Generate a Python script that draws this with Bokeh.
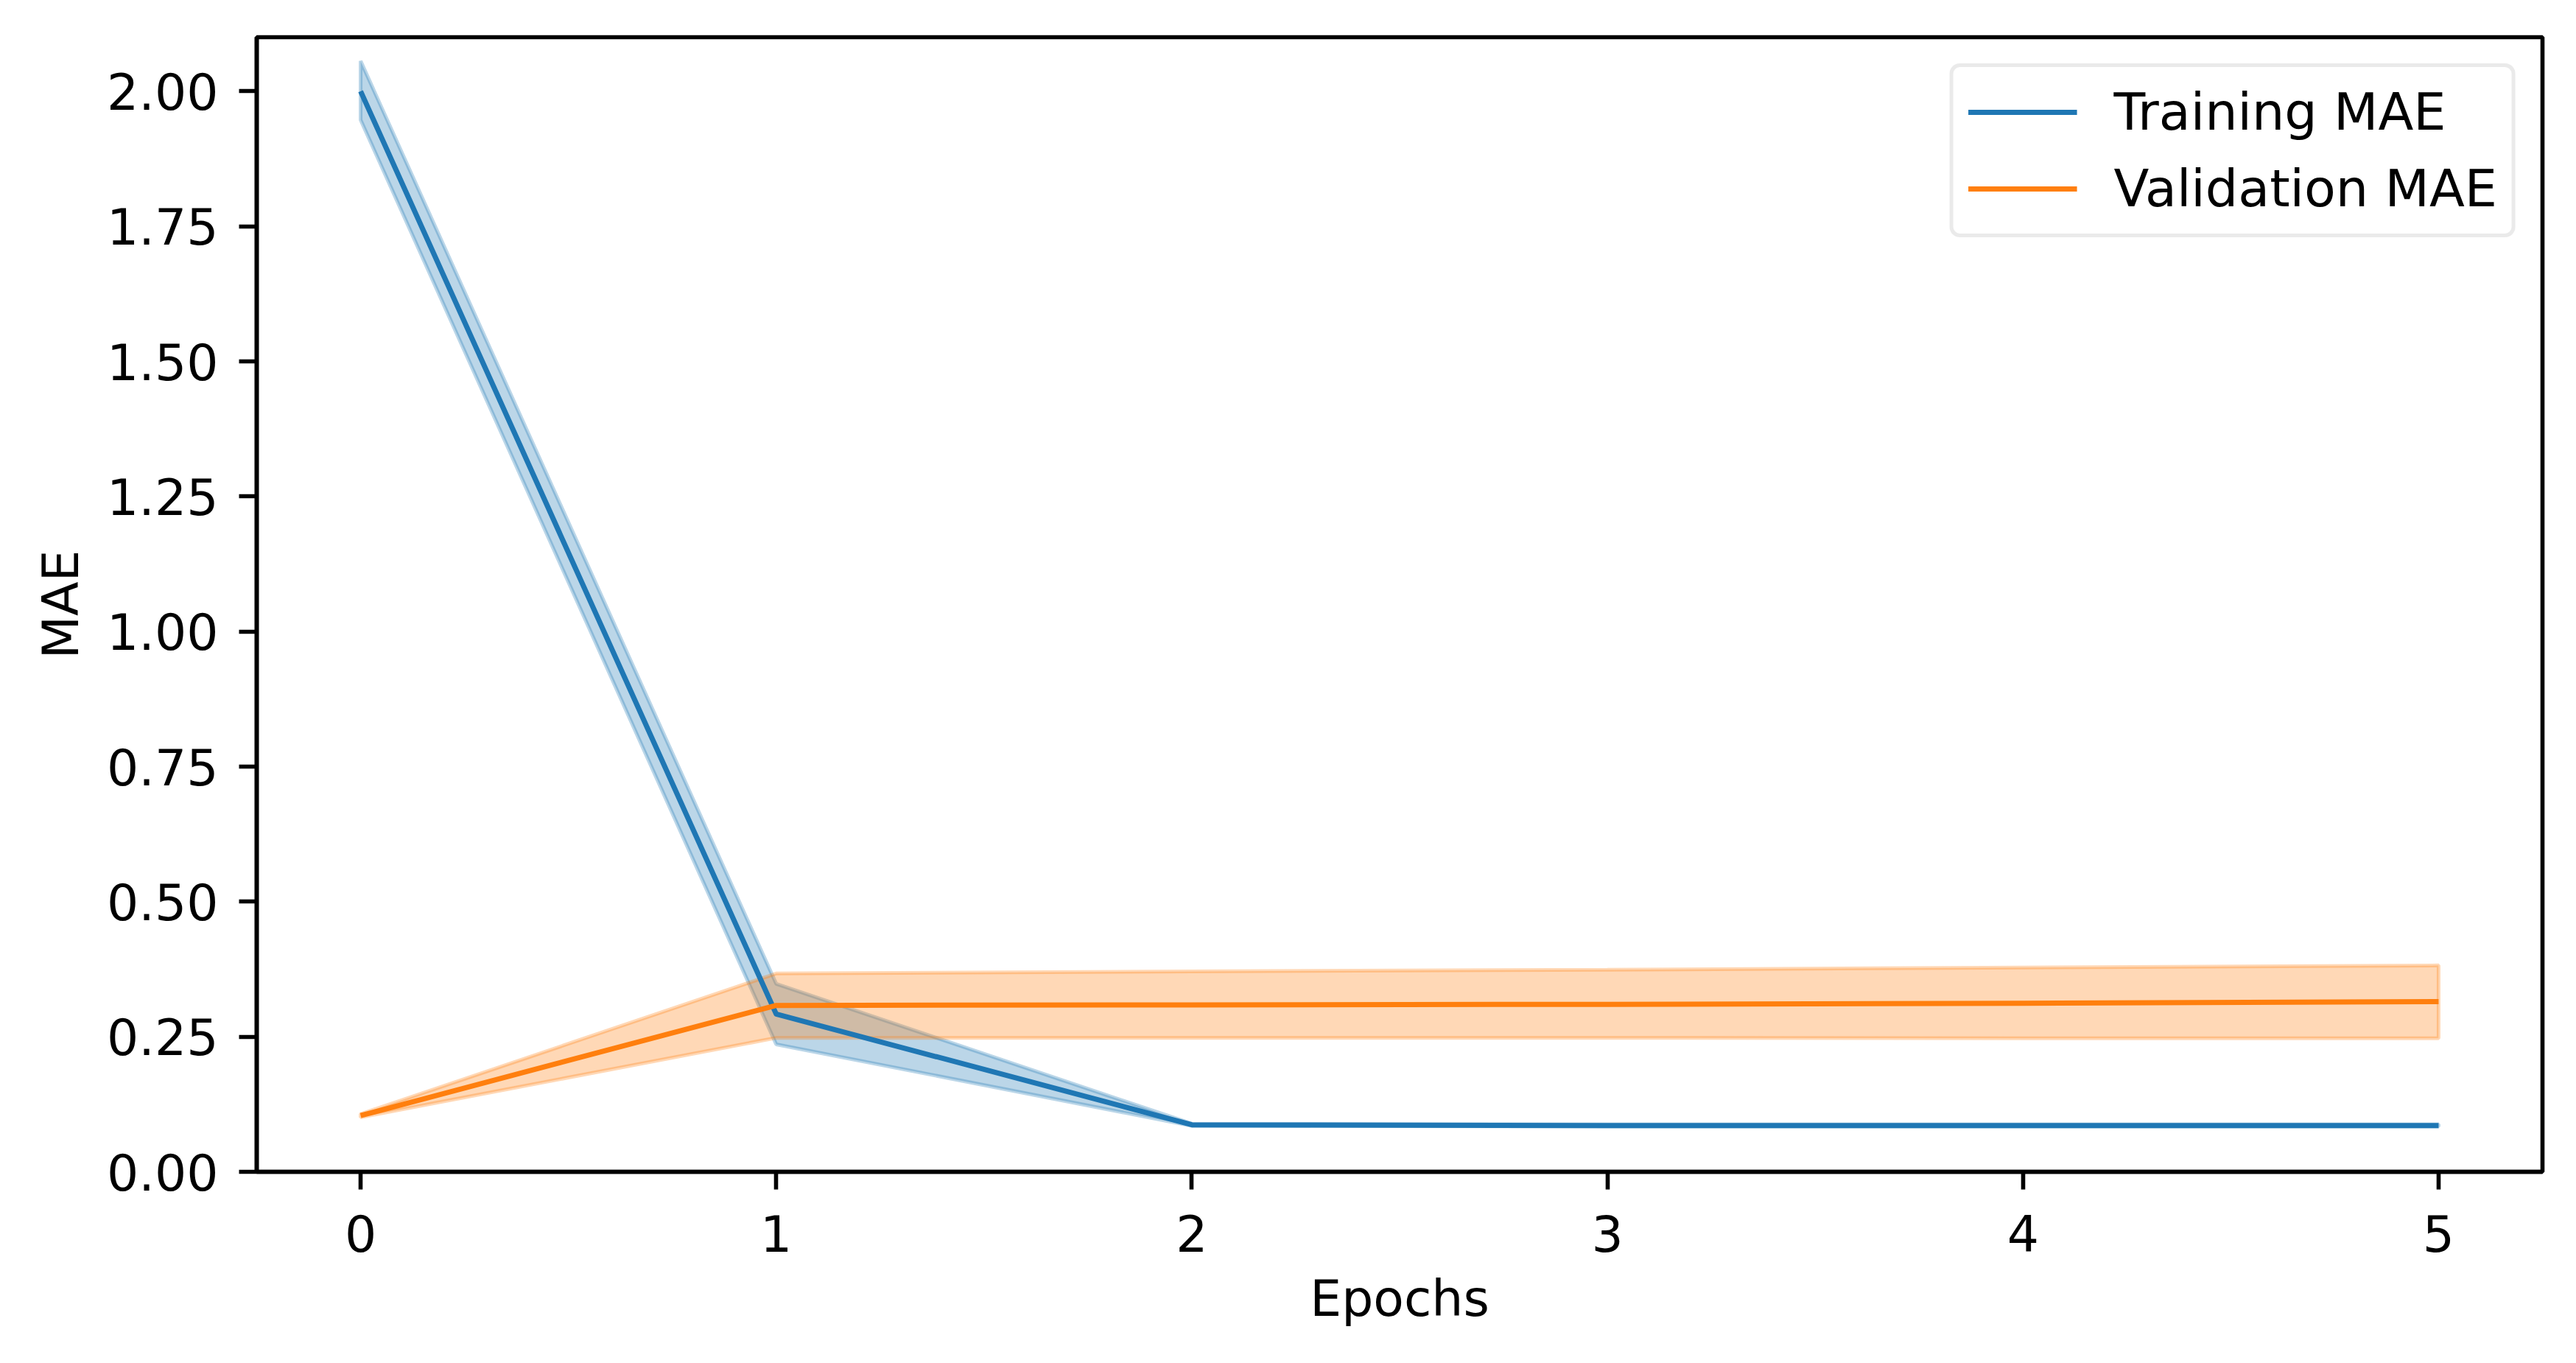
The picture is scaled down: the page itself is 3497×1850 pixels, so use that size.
from bokeh.plotting import figure
from bokeh.models import Range1d, FixedTicker, PrintfTickFormatter, Legend, LegendItem
from bokeh.embed import file_html
from bokeh.resources import INLINE

# ---- data ----
epochs = [0, 1, 2, 3, 4, 5]
train_mae = [2.00, 0.292, 0.087, 0.0855, 0.0855, 0.0855]
train_lower = [1.947, 0.236, 0.085, 0.084, 0.084, 0.084]
train_upper = [2.056, 0.348, 0.089, 0.088, 0.088, 0.088]
val_mae = [0.104, 0.308, 0.309, 0.310, 0.312, 0.315]
val_lower = [0.101, 0.248, 0.248, 0.248, 0.247, 0.247]
val_upper = [0.107, 0.367, 0.371, 0.374, 0.378, 0.382]
x_ticks = [0, 1, 2, 3, 4, 5]
y_ticks = [0.0, 0.25, 0.5, 0.75, 1.0, 1.25, 1.5, 1.75, 2.0]
series_names = ["Training MAE", "Validation MAE"]

BLUE = "#1f77b4"
ORANGE = "#ff7f0e"
FONT = "DejaVu Sans"
FS = "68px"
LW = 5.6

p = figure(width=3481, height=1834, output_backend="svg", toolbar_location=None,
           x_range=Range1d(-0.25, 5.25), y_range=Range1d(0, 2.10),
           min_border_left=348, min_border_right=30, min_border_top=50, min_border_bottom=244)
p.background_fill_color = "white"
p.border_fill_color = "white"
p.grid.visible = False
p.outline_line_color = "black"
p.outline_line_width = LW

# bands (fill_between-like polygons)
def band_poly(lo, hi):
    xs = list(epochs) + list(reversed(epochs))
    ys = list(hi) + list(reversed(lo))
    return xs, ys

bx, by = band_poly(train_lower, train_upper)
p.patch(bx, by, fill_color=BLUE, fill_alpha=0.3, line_color=BLUE, line_alpha=0.3, line_width=5)
vx, vy = band_poly(val_lower, val_upper)
p.patch(vx, vy, fill_color=ORANGE, fill_alpha=0.3, line_color=ORANGE, line_alpha=0.3, line_width=5)

r1 = p.line(epochs, train_mae, line_color=BLUE, line_width=7, line_join="round")
r2 = p.line(epochs, val_mae, line_color=ORANGE, line_width=7, line_join="round")

# axes
for ax in (p.xaxis[0], p.yaxis[0]):
    ax.axis_line_width = LW
    ax.axis_line_color = "black"
    ax.major_tick_line_width = LW
    ax.major_tick_line_color = "black"
    ax.major_tick_out = 24
    ax.major_tick_in = 0
    ax.minor_tick_line_color = None
    ax.major_label_text_font = FONT
    ax.major_label_text_font_size = FS
    ax.major_label_text_color = "black"
    ax.axis_label_text_font = FONT
    ax.axis_label_text_font_size = FS
    ax.axis_label_text_font_style = "normal"
    ax.axis_label_text_color = "black"

p.xaxis.ticker = FixedTicker(ticks=x_ticks)
p.yaxis.ticker = FixedTicker(ticks=y_ticks)
p.yaxis.formatter = PrintfTickFormatter(format="%.2f")
p.xaxis.axis_label = "Epochs"
p.yaxis.axis_label = "MAE"
p.xaxis.major_label_standoff = 34
p.yaxis.major_label_standoff = 28
p.xaxis.axis_label_standoff = 21
p.yaxis.axis_label_standoff = 20

legend = Legend(items=[LegendItem(label=series_names[0], renderers=[r1]),
                       LegendItem(label=series_names[1], renderers=[r2])],
                location="top_right")
legend.margin = 36
legend.padding = 20
legend.spacing = 22
legend.glyph_width = 148
legend.glyph_height = 80
legend.label_height = 80
legend.label_standoff = 50
legend.label_text_font = FONT
legend.label_text_font_size = "70px"
legend.label_text_color = "black"
legend.border_line_color = "#d6d6d6"
legend.border_line_width = 5
legend.border_radius = 14
legend.background_fill_alpha = 0.8
p.add_layout(legend)

open("out.html", "w").write(file_html(p, INLINE))
